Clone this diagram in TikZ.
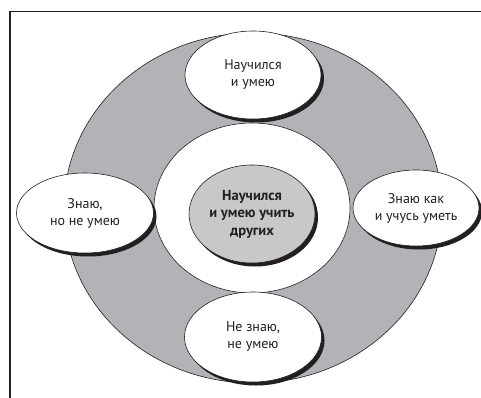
\documentclass[tikz,border=0pt]{standalone}
\usepackage{fontspec}
\setmainfont{PT Sans}
\usetikzlibrary{shapes.geometric, shadows}

\definecolor{ink}{HTML}{231F20}
\definecolor{ringgray}{HTML}{B3B3B7}
\definecolor{coregray}{HTML}{C8C8CB}

\begin{document}
\begin{tikzpicture}[x=1pt, y=-1pt,
  every ring/.style={ellipse, draw=ink, line width=0.6pt, inner sep=0pt},
  every stage/.style={ellipse, draw=ink, fill=white, line width=0.6pt, inner sep=0pt,
    align=center, text=ink, font=\fontsize{14}{17}\selectfont,
    general shadow={fill=ink, shadow xshift=3pt, shadow yshift=-3.5pt}}]

\useasboundingbox (0,0) rectangle (481,398);

% frame
\draw [ink, line width=1.3pt] (10,398) -- (10,11.5) -- (481,11.5);

% rings
\node [every ring/.try, fill=ringgray, minimum width=378, minimum height=350] (ring-outer) at (253,208) {};
\node [every ring/.try, fill=white, minimum width=196, minimum height=170] (ring-inner) at (252,208) {};

% core
\node [every stage/.try, fill=coregray, minimum width=126, minimum height=98,
  font=\fontsize{14.5}{17.5}\selectfont\bfseries,
  general shadow={fill=ink, shadow xshift=2.5pt, shadow yshift=-2.5pt}]
  (core) at (252,214) {Научился\\и умею учить\\других};

% stages
\foreach \m/\x/\y/\w/\h/\l in {
    top/253/75/136/88/{Научился\\и умею},
    left/85/213/137/80/{Знаю,\\но не умею},
    right/416/208/126/76/{Знаю как\\и учусь уметь},
    bottom/253/337/137/90/{Не знаю,\\не умею}}
  \node [every stage/.try, minimum width=\w, minimum height=\h] (stage-\m) at (\x,\y) {\l};

\end{tikzpicture}
\end{document}
